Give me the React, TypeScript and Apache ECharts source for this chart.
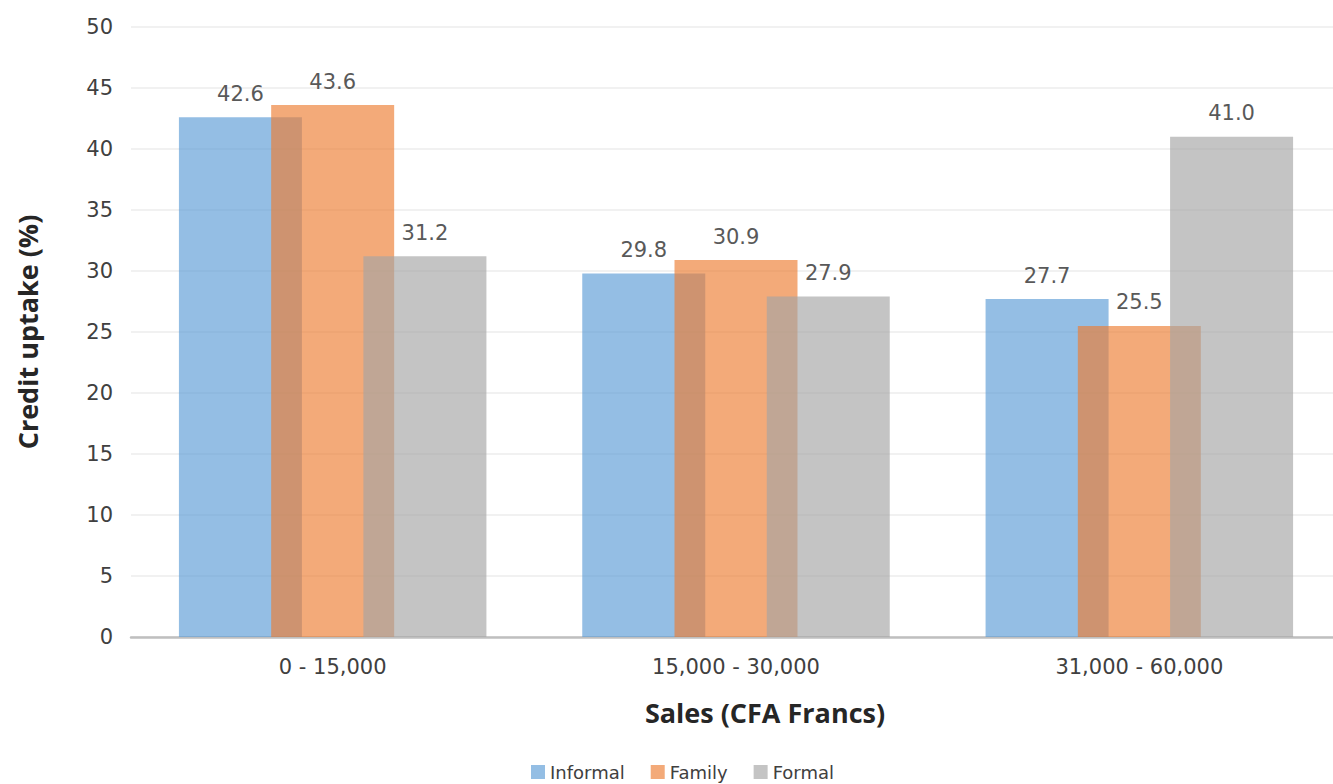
import React, { useEffect, useRef } from "react";
import * as echarts from "echarts";

const categories = ["0 - 15,000", "15,000 - 30,000", "31,000 - 60,000"];
const informal = [42.6, 29.8, 27.7];
const family = [43.6, 30.9, 25.5];
const formal = [31.2, 27.9, 41.0];
const seriesNames = ["Informal", "Family", "Formal"];
const seriesColors = ["rgba(91,155,213,0.65)", "rgba(237,125,49,0.65)", "rgba(165,165,165,0.65)"];
const yTicks = { min: 0, max: 50, interval: 5 };

const FONT = "DejaVu Sans";
const BOLD_FONT = "Open Sans";

export default function App() {
  const ref = useRef<HTMLDivElement>(null);
  useEffect(() => {
    if (!ref.current) return;
    const chart = echarts.init(ref.current, null, { renderer: "svg" });
    const values = [informal, family, formal];
    chart.setOption({
      animation: false,
      backgroundColor: "#ffffff",
      grid: { left: 131, right: 0, top: 27, bottom: 147, containLabel: false },
      legend: {
        left: 526,
        top: 757,
        itemWidth: 14,
        itemHeight: 14,
        itemGap: 26,
        icon: "rect",
        textStyle: { fontFamily: FONT, fontSize: 18, color: "#404040", lineHeight: 20 },
        data: seriesNames,
      },
      xAxis: {
        type: "category",
        data: categories,
        axisLine: { lineStyle: { color: "#BFBFBF", width: 2.5 } },
        axisTick: { show: false },
        axisLabel: { fontFamily: FONT, fontSize: 21, color: "#404040", margin: 19 },
      },
      yAxis: {
        type: "value",
        min: yTicks.min,
        max: yTicks.max,
        interval: yTicks.interval,
        name: "Credit uptake (%)",
        nameLocation: "middle",
        nameGap: 90,
        nameTextStyle: { fontFamily: BOLD_FONT, fontWeight: "bold", fontSize: 27, color: "#262626" },
        axisLine: { show: false },
        axisTick: { show: false },
        splitLine: { lineStyle: { color: "#EDEDED", width: 1.5 } },
        axisLabel: { fontFamily: FONT, fontSize: 21, color: "#404040", margin: 18 },
      },
      graphic: [
        {
          type: "text",
          x: 765,
          y: 712,
          style: {
            text: "Sales (CFA Francs)",
            font: `bold 27px "${BOLD_FONT}"`,
            fill: "#262626",
            textAlign: "center",
            textVerticalAlign: "middle",
          },
        },
      ],
      series: seriesNames.map((name, i) => ({
        name,
        type: "bar",
        data: values[i],
        barWidth: 123,
        barGap: "-25%",
        itemStyle: { color: seriesColors[i] },
        label: {
          show: true,
          position: "top",
          distance: 13,
          fontFamily: FONT,
          fontSize: 21,
          color: "#595959",
          formatter: (p: any) => Number(p.value).toFixed(1),
        },
      })),
    });
    return () => chart.dispose();
  }, []);
  return <div ref={ref} style={{ position: "fixed", left: 0, top: 0, width: 1341, height: 784 }} />;
}
